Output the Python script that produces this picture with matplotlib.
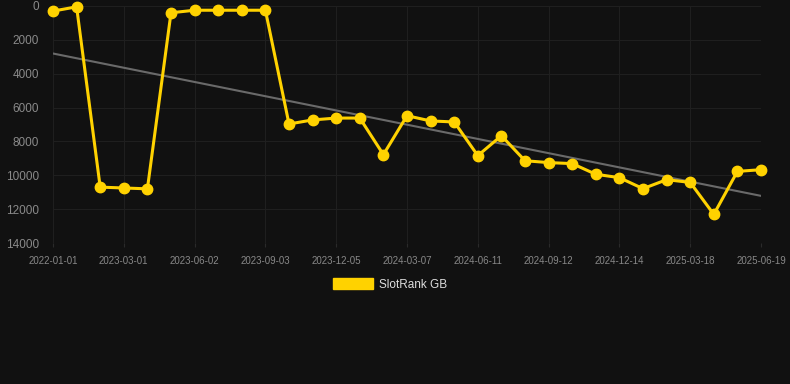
import matplotlib.pyplot as plt
import numpy as np
from matplotlib.patches import Patch

plt.rcParams['font.family'] = ['Liberation Sans', 'DejaVu Sans']

# rank values, one point per period (lower rank number = better, axis inverted)
ranks = [300, 50, 10700, 10750, 10800, 400, 250, 250, 250, 250,
         6970, 6730, 6620, 6620, 8780, 6480, 6790, 6850, 8840, 7660,
         9140, 9250, 9310, 9940, 10140, 10790, 10260, 10420, 12310, 9770,
         9670]
tick_labels = ['2022-01-01', '2023-03-01', '2023-06-02', '2023-09-03', '2023-12-05',
               '2024-03-07', '2024-06-11', '2024-09-12', '2024-12-14', '2025-03-18',
               '2025-06-19']
y_ticks = [0, 2000, 4000, 6000, 8000, 10000, 12000, 14000]

bg = '#111111'
gold = '#FFD200'

fig = plt.figure(figsize=(7.9, 3.84), dpi=100, facecolor=bg)
ax = fig.add_axes([53/790, 1 - 243/384, (761 - 53)/790, (243 - 6)/384])
ax.set_facecolor(bg)

x = np.arange(len(ranks))

# trend line (linear fit)
k, b = np.polyfit(x, ranks, 1)
ax.plot(x, k*x + b, color='#6a6a6a', lw=1.5, zorder=2)

ax.plot(x, ranks, color=gold, lw=2.2, marker='o', markersize=7.5,
        zorder=3, clip_on=False)

ax.set_xlim(0, len(ranks) - 1)
ax.set_ylim(14000, 0)
ax.set_xticks(x[::3])
ax.set_xticklabels(tick_labels)
ax.set_yticks(y_ticks)

ax.grid(True, color='#1f1f1f', lw=0.8)
ax.set_axisbelow(True)
for s in ax.spines.values():
    s.set_visible(False)
ax.tick_params(axis='x', colors='#2a2a2a', labelcolor='#888888', labelsize=7, length=3, pad=6)
ax.tick_params(axis='y', length=0, labelcolor='#8a8a8a', labelsize=8.5, pad=10)

fig.legend(handles=[Patch(color=gold, label='SlotRank GB')], loc='center',
           bbox_to_anchor=(390/790, 1 - 284.5/384), frameon=False, handlelength=3.4,
           handleheight=1.0, handletextpad=0.5, fontsize=8.5, labelcolor='#dddddd')

fig.savefig('out.png', dpi=100, facecolor=bg)
